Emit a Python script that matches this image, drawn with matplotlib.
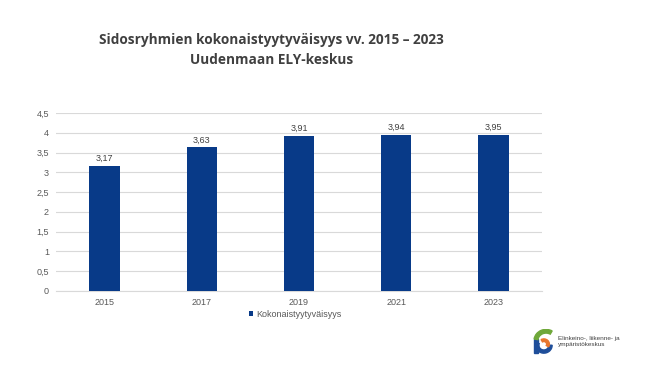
import matplotlib.pyplot as plt
from matplotlib.patches import Wedge, Rectangle

years = ["2015", "2017", "2019", "2021", "2023"]
values = [3.17, 3.63, 3.91, 3.94, 3.95]
y_ticks = [0, 0.5, 1, 1.5, 2, 2.5, 3, 3.5, 4, 4.5]

BAR = "#083A88"
GRID = "#D9D9D9"
TXT = "#595959"


def fmt(v):
    # finnish decimal comma
    s = f"{v:g}"
    return s.replace(".", ",")


fig = plt.figure(figsize=(6.5, 3.66), dpi=100)
ax = fig.add_axes([0.086, 0.205, 0.748, 0.486])

x = range(len(years))
ax.bar(x, values, width=0.31, color=BAR, zorder=3, label="Kokonaistyytyväisyys")
for i, v in zip(x, values):
    ax.text(i, v + 0.08, f"{v:.2f}".replace(".", ","), ha="center", va="bottom",
            fontsize=6.5, color="#404040", family="Liberation Sans")

ax.set_xlim(-0.5, len(years) - 0.5)
ax.set_ylim(0, 4.5)
ax.set_yticks(y_ticks)
ax.set_yticklabels([fmt(t) for t in y_ticks])
ax.set_xticks(list(x))
ax.set_xticklabels(years)
ax.tick_params(length=0, labelsize=6.5, labelcolor=TXT, pad=5)
for lab in ax.get_xticklabels() + ax.get_yticklabels():
    lab.set_family("Liberation Sans")
ax.grid(axis="y", color=GRID, linewidth=0.8, zorder=0)
for s in ["top", "right", "left"]:
    ax.spines[s].set_visible(False)
ax.spines["bottom"].set_color(GRID)
ax.spines["bottom"].set_linewidth(0.8)

leg = ax.legend(loc="upper left", bbox_to_anchor=(0.38, -0.06), frameon=False,
                handlelength=0.5, handleheight=0.5, handletextpad=0.3,
                prop={"family": "Liberation Sans", "size": 6.5})
for t in leg.get_texts():
    t.set_color(TXT)

fig.text(0.418, 0.89, "Sidosryhmien kokonaistyytyväisyys vv. 2015 \u2013 2023",
         ha="center", va="center", fontsize=9.8, fontweight="bold",
         color="#404040", family="Open Sans")
fig.text(0.418, 0.835, "Uudenmaan ELY-keskus", ha="center", va="center",
         fontsize=9.8, fontweight="bold", color="#404040", family="Open Sans")

# logo (rough sketch of the ELY mark)
lax = fig.add_axes([0.818, 0.025, 0.034, 0.075])
lax.set_xlim(-1, 1)
lax.set_ylim(-1.3, 1.3)
lax.axis("off")
lax.add_patch(Rectangle((-0.75, -0.9), 0.3, 1.3, color="#1F4E9A"))
lax.add_patch(Wedge((0.1, -0.2), 0.75, 160, 360, width=0.3, color="#1F4E9A"))
lax.add_patch(Wedge((0.1, -0.1), 0.5, -30, 120, width=0.25, color="#E8772E"))
lax.add_patch(Wedge((0.3, 0.2), 1.1, 60, 170, width=0.35, color="#6FA83A"))
fig.text(0.858, 0.068, "Elinkeino-, liikenne- ja\nympäristökeskus", ha="left", va="center",
         fontsize=4.6, color="#404040", family="Liberation Sans", linespacing=1.3)

fig.savefig("out.png", dpi=100)
